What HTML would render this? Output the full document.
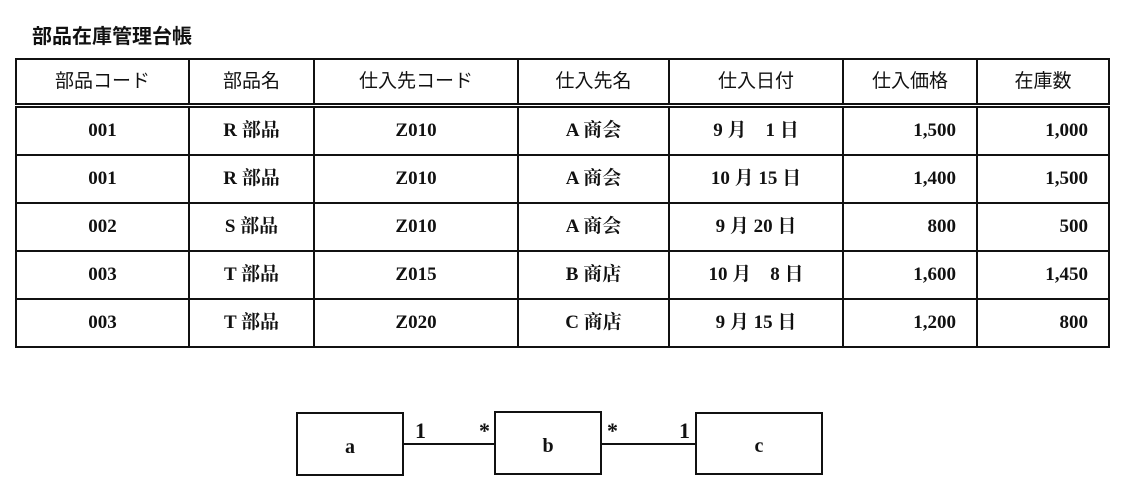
<!DOCTYPE html><html><head><meta charset="utf-8"><style>
body{margin:0;width:1145px;height:490px;background:#fff;position:relative;font-family:"Liberation Serif","Noto Serif CJK SC","Noto Sans CJK JP",serif;color:#111}
.t{position:absolute;left:32px;top:20px;font-size:20px;font-weight:bold;font-family:"Liberation Sans","Noto Sans CJK JP",sans-serif}
table{position:absolute;left:15px;top:58px;border-collapse:collapse;font-size:19px;font-weight:bold}
td{border:2px solid #111;height:46px;padding:0;text-align:center;vertical-align:middle;line-height:22px}
tr.h td{height:43px;font-family:"Liberation Sans","Noto Sans CJK JP",sans-serif;font-weight:normal;border-bottom:5px double #111}
td.r{text-align:right;padding-right:20px}
.b{position:absolute;border:2px solid #111;box-sizing:border-box;display:flex;align-items:center;justify-content:center;font-size:20px;font-weight:bold;padding-top:6px}
.l{position:absolute;height:2px;background:#111;top:443px}
.m{position:absolute;font-size:22px;font-weight:bold}
</style></head><body>
<div class="t">部品在庫管理台帳</div>
<table>
<colgroup><col style="width:173px"><col style="width:125px"><col style="width:204px"><col style="width:151px"><col style="width:174px"><col style="width:134px"><col style="width:132px"></colgroup>
<tr class="h"><td>部品コード</td><td>部品名</td><td>仕入先コード</td><td>仕入先名</td><td>仕入日付</td><td>仕入価格</td><td>在庫数</td></tr>
<tr><td>001</td><td>R 部品</td><td>Z010</td><td>A 商会</td><td>9 月　1 日</td><td class="r">1,500</td><td class="r">1,000</td></tr>
<tr><td>001</td><td>R 部品</td><td>Z010</td><td>A 商会</td><td>10 月 15 日</td><td class="r">1,400</td><td class="r">1,500</td></tr>
<tr><td>002</td><td>S 部品</td><td>Z010</td><td>A 商会</td><td>9 月 20 日</td><td class="r">800</td><td class="r">500</td></tr>
<tr><td>003</td><td>T 部品</td><td>Z015</td><td>B 商店</td><td>10 月　8 日</td><td class="r">1,600</td><td class="r">1,450</td></tr>
<tr><td>003</td><td>T 部品</td><td>Z020</td><td>C 商店</td><td>9 月 15 日</td><td class="r">1,200</td><td class="r">800</td></tr>
</table>
<div class="b" style="left:296px;top:412px;width:108px;height:64px">a</div>
<div class="b" style="left:494px;top:411px;width:108px;height:64px">b</div>
<div class="b" style="left:695px;top:412px;width:128px;height:63px">c</div>
<div class="l" style="left:404px;width:90px"></div>
<div class="l" style="left:602px;width:93px"></div>
<div class="m" style="left:415px;top:418px">1</div>
<div class="m" style="left:479px;top:418px">*</div>
<div class="m" style="left:607px;top:418px">*</div>
<div class="m" style="left:679px;top:418px">1</div>
</body></html>
